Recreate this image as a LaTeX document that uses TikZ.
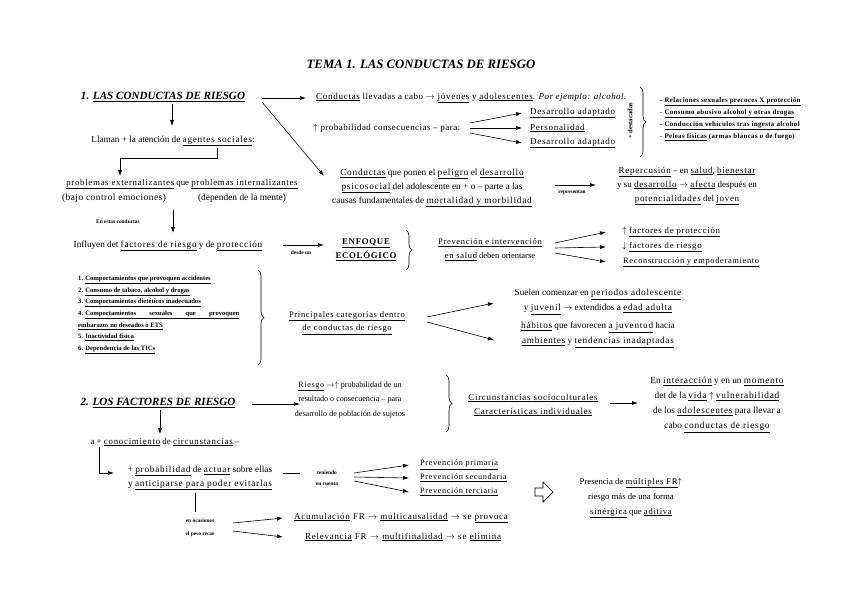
\documentclass[tikz,border=0pt]{standalone}
\usepackage{fontspec}
\setmainfont{Liberation Serif}
\newfontfamily\spc[LetterSpace=8]{Liberation Serif}
\newfontfamily\spl[LetterSpace=5]{Liberation Serif}
\newfontfamily\splw[LetterSpace=10]{Liberation Serif}
\usetikzlibrary{arrows.meta,decorations.pathreplacing}
\newcommand{\und}[1]{\underline{\spc #1}}
\newcommand{\fsz}[2]{\fontsize{#1}{#2}\selectfont}
\tikzset{
  txt/.style={inner sep=0pt, align=center, font=\fsz{9}{14}},
  arr/.style={-{Latex[length=6pt,width=4pt]}, line width=0.6pt},
  ln/.style={line width=0.6pt},
  lab/.style={inner sep=0pt, align=center, font=\fsz{5.4}{11}\bfseries},
  head/.style={inner sep=0pt, font=\fsz{11.1}{13}\bfseries\itshape},
  brc/.style={decorate, decoration={brace, amplitude=6pt}, line width=0.6pt},
}
\begin{document}
\begin{tikzpicture}[x=1pt,y=-1pt]
\useasboundingbox (0,0) rectangle (848,599);

% title
\node[inner sep=0pt, font=\fsz{12.8}{14}\bfseries\itshape] (title) at (421,64) {TEMA 1. LAS CONDUCTAS DE RIESGO};

% ---------- section 1 ----------
\node[head] (h1) at (163,97) {1. \underline{LAS CONDUCTAS DE RIESGO}};
\coordinate (a1s) at (262,98); \coordinate (a1e) at (306,98);
\draw[arr] (a1s) -- (a1e);
\node[txt, anchor=west, font=\fsz{9}{14}\spl] (cl) at (316,98) {\und{Conductas} llevadas a cabo $\rightarrow$ \und{jóvenes} y \und{adolescentes}. \textit{Por ejemplo: alcohol.}};
\node[txt, anchor=west, font=\fsz{9}{14}\spl] (prob) at (313,128) {$\uparrow$ probabilidad consecuencias – para:};
\coordinate (f1a) at (470,123); \coordinate (f1b) at (470,128); \coordinate (f1c) at (470,133);
\coordinate (f1ae) at (522,113); \coordinate (f1be) at (522,128); \coordinate (f1ce) at (522,143);
\node[txt, anchor=west] (d1) at (530,113) {\und{Desarrollo adaptado}};
\node[txt, anchor=west] (pers) at (530,128) {\und{Personalidad}};
\node[txt, anchor=west] (d2) at (530,143) {\und{Desarrollo adaptado}};
\draw[arr] (f1a) -- (f1ae);
\draw[arr] (f1b) -- (f1be);
\draw[arr] (f1c) -- (f1ce);

\coordinate (b1t) at (640,87); \coordinate (b1b) at (640,157);
\draw[brc] (b1t) -- (b1b);
\node[lab, rotate=90, font=\fsz{6.6}{7}\bfseries] (dest) at (630,121) {+ destacadas};
\node[inner sep=0pt, align=left, anchor=west, font=\fsz{6.9}{12}\bfseries\spl] (lst) at (660,119) {- \underline{Relaciones sexuales precoces X protección}\\- \underline{Consumo abusivo alcohol y otras drogas}\\- \underline{Conducción vehículos tras ingesta alcohol}\\- \underline{Peleas físicas} (armas blancas o de fuego)};

\coordinate (a2s) at (262,102); \coordinate (a2e) at (324,176);
\draw[arr] (a2s) -- (a2e);

\coordinate (a3s) at (172,104); \coordinate (a3e) at (172,126);
\draw[arr] (a3s) -- (a3e);
\node[txt, font=\fsz{9.2}{14}] (llam) at (173,141) {Llaman + la atención de \und{agentes sociales}:};

\coordinate (e1) at (217,148); \coordinate (e2) at (217,158); \coordinate (e3) at (120,158); \coordinate (e4) at (120,176);
\draw[arr] (e1) -- (e2) -- (e3) -- (e4);

\node[txt, font=\fsz{8.8}{14}] (prob2) at (182,184) {\und{problemas externalizantes} que \und{problemas internalizantes}};
\node[txt, font=\fsz{9.4}{14}\spl] (bajo) at (114,198) {(bajo control emociones)};
\node[txt, font=\fsz{9.4}{14}] (dep) at (242,198) {(dependen de la mente)};

\coordinate (a4s) at (173,210); \coordinate (a4e) at (173,233);
\draw[arr] (a4s) -- (a4e);
\node[lab] (enest) at (118,222) {En estas conductas};

\node[txt, font=\fsz{9.2}{14}] (infl) at (168,246) {Influyen det \und{factores de riesgo} y de \und{protección}};
\coordinate (a5s) at (283,245); \coordinate (a5e) at (324,245);
\draw[arr] (a5s) -- (a5e);
\node[lab] (desde) at (301,253) {desde un};

\node[txt, font=\fsz{8.8}{14}\bfseries] (enf) at (366,250) {\und{ENFOQUE}\\\und{ECOLÓGICO}};
\coordinate (b2t) at (406,230); \coordinate (b2b) at (406,270);
\draw[brc] (b2t) -- (b2b);
\node[txt, font=\fsz{8.5}{14}] (prev) at (490,250) {\und{Prevención e intervención}\\\und{en salud} deben orientarse};

\coordinate (f2a) at (555,243); \coordinate (f2b) at (555,248); \coordinate (f2c) at (555,253);
\node[txt, anchor=west, font=\fsz{8.8}{14}] (fp) at (622,232) {$\uparrow$ \und{factores de protección}};
\node[txt, anchor=west, font=\fsz{8.8}{14}] (fr) at (622,247) {$\downarrow$ \und{factores de riesgo}};
\node[txt, anchor=west, font=\fsz{8.4}{14}] (rec) at (623,262) {\und{Reconstrucción y empoderamiento}};
\coordinate (f2ae) at (606,232); \coordinate (f2be) at (606,247); \coordinate (f2ce) at (606,262);
\draw[arr] (f2a) -- (f2ae);
\draw[arr] (f2b) -- (f2be);
\draw[arr] (f2c) -- (f2ce);

\node[txt, font=\fsz{9.3}{14}] (cpon) at (432,188) {\und{Conductas} que ponen el \und{peligro} el \und{desarrollo}\\\und{psicosocial} del adolescente en + o – parte a las\\causas fundamentales de \und{mortalidad y morbilidad}};
\coordinate (a6s) at (555,185); \coordinate (a6e) at (596,185);
\draw[arr] (a6s) -- (a6e);
\node[lab] (repr) at (572,193) {representan};
\node[txt, font=\fsz{9}{14}] (reper) at (687,186) {\und{Repercusión} – en \und{salud}, \und{bienestar}\\y su \und{desarrollo} $\rightarrow$ \und{afecta} después en\\\und{potencialidades} del \und{joven}};

\node[inner sep=0pt, align=left, anchor=west, font=\fsz{6.6}{11.7}\bfseries] (cat) at (78,315) {1. \underline{Comportamientos que provoquen accidentes}\\2. \underline{Consumo de tabaco, alcohol y drogas}\\3. \underline{Comportamientos dietéticos inadecuados}\\4. \underline{\makebox[154pt][s]{Comportamientos sexuales que provoquen}}\\\underline{embarazos no deseados o ETS}\\5. \underline{Inactividad física}\\6. \underline{Dependencia de las TICs}};
\coordinate (b3t) at (258,270); \coordinate (b3b) at (258,365);
\draw[brc] (b3t) -- (b3b);
\node[txt, font=\fsz{8.5}{13.5}] (princ) at (347,323) {\und{Principales categorías dentro}\\\und{de conductas de riesgo}};
\coordinate (f3a) at (427,317); \coordinate (f3b) at (427,322);
\coordinate (f3ae) at (494,303); \coordinate (f3be) at (494,340);
\draw[arr] (f3a) -- (f3ae);
\draw[arr] (f3b) -- (f3be);
\node[txt, font=\fsz{9.2}{15}] (suel) at (598,302) {Suelen comenzar en \und{periodos adolescente}\\y \und{juvenil} $\rightarrow$ extendidos a \und{edad adulta}};
\node[txt, font=\fsz{9.2}{15}] (hab) at (598,335) {\und{hábitos} que favorecen \und{a juventud} hacia\\\und{ambientes} y \und{tendencias inadaptadas}};

% ---------- section 2 ----------
\node[head] (h2) at (158,403) {2. \underline{LOS FACTORES DE RIESGO}};
\coordinate (a7s) at (252,404); \coordinate (a7e) at (300,404);
\draw[arr] (a7s) -- (a7e);
\node[txt, font=\fsz{8.1}{14.5}] (ries) at (350,400) {\und{Riesgo} $\rightarrow\uparrow$ probabilidad de un\\resultado o consecuencia – para\\desarrollo de población de sujetos};
\coordinate (b4t) at (446,375); \coordinate (b4b) at (446,432);
\draw[brc] (b4t) -- (b4b);
\node[txt, font=\fsz{9}{14}] (circ) at (533,405) {\und{Circunstancias socioculturales}\\\und{Características individuales}};
\coordinate (a8s) at (610,403); \coordinate (a8e) at (638,403);
\draw[arr] (a8s) -- (a8e);
\node[txt, font=\fsz{9.3}{15}] (inter) at (717,405) {En \und{interacción} y en un \und{momento}\\det de la \und{vida} $\uparrow$ \und{vulnerabilidad}\\de los \und{adolescentes} para llevar a\\cabo \und{conductas de riesgo}};

\coordinate (a9s) at (160,410); \coordinate (a9e) at (160,434);
\draw[arr] (a9s) -- (a9e);
\node[txt, font=\fsz{8.9}{14}] (conoc) at (165,442) {a + \und{conocimiento} de \und{circunstancias} –};
\coordinate (g1) at (99,447); \coordinate (g2) at (99,473); \coordinate (g3) at (114,473);
\draw[arr] (g1) -- (g2) -- (g3);
\node[txt, font=\fsz{9.3}{14}] (act) at (200,478) {+ \und{probabilidad} de \und{actuar} sobre ellas\\y \und{anticiparse para poder evitarlas}};
\coordinate (h1s) at (283,473); \coordinate (h1e) at (300,473);
\draw[ln] (h1s) -- (h1e);
\node[lab] (ten) at (327,478) {teniendo\\en cuenta};
\coordinate (f4a) at (354,473); \coordinate (f4b) at (354,477); \coordinate (f4c) at (354,481);
\node[txt, anchor=west, font=\fsz{8.2}{14}] (pp) at (420,465) {\und{Prevención primaria}};
\node[txt, anchor=west, font=\fsz{8.2}{14}] (ps) at (420,478) {\und{Prevención secundaria}};
\node[txt, anchor=west, font=\fsz{8.2}{14}] (pt) at (420,492) {\und{Prevención terciaria}};
\coordinate (f4ae) at (409,465); \coordinate (f4be) at (409,478); \coordinate (f4ce) at (409,492);
\draw[arr] (f4a) -- (f4ae);
\draw[arr] (f4b) -- (f4be);
\draw[arr] (f4c) -- (f4ce);

\coordinate (v1) at (195,493); \coordinate (v2) at (195,512);
\draw[ln] (v1) -- (v2);
\node[lab, font=\fsz{5.4}{13}\bfseries] (ocas) at (200,528) {en ocasiones\\el peso recae};
\coordinate (f5a) at (233,523); \coordinate (f5b) at (233,531);
\coordinate (f5ae) at (283,518); \coordinate (f5be) at (283,537);
\draw[arr] (f5a) -- (f5ae);
\draw[arr] (f5b) -- (f5be);
\node[txt, anchor=west, font=\fsz{9}{14}\splw] (acum) at (294,518) {\und{Acumulación} FR $\rightarrow$ \und{multicausalidad} $\rightarrow$ se \und{provoca}};
\node[txt, anchor=west, font=\fsz{9}{14}\splw] (relev) at (305,537) {\und{Relevancia} FR $\rightarrow$ \und{multifinalidad} $\rightarrow$ se \und{elimina}};

% hollow arrow
\draw[line width=0.7pt, line join=miter] (535,488) -- (543,488) -- (543,482) -- (553,492) -- (543,502) -- (543,496) -- (535,496) -- cycle;

\node[txt, font=\fsz{8.7}{15}] (pres) at (631,498) {Presencia de \und{múltiples FR}$\uparrow$\\riesgo más de una forma\\\und{sinérgica} que \und{aditiva}};
\end{tikzpicture}
\end{document}
